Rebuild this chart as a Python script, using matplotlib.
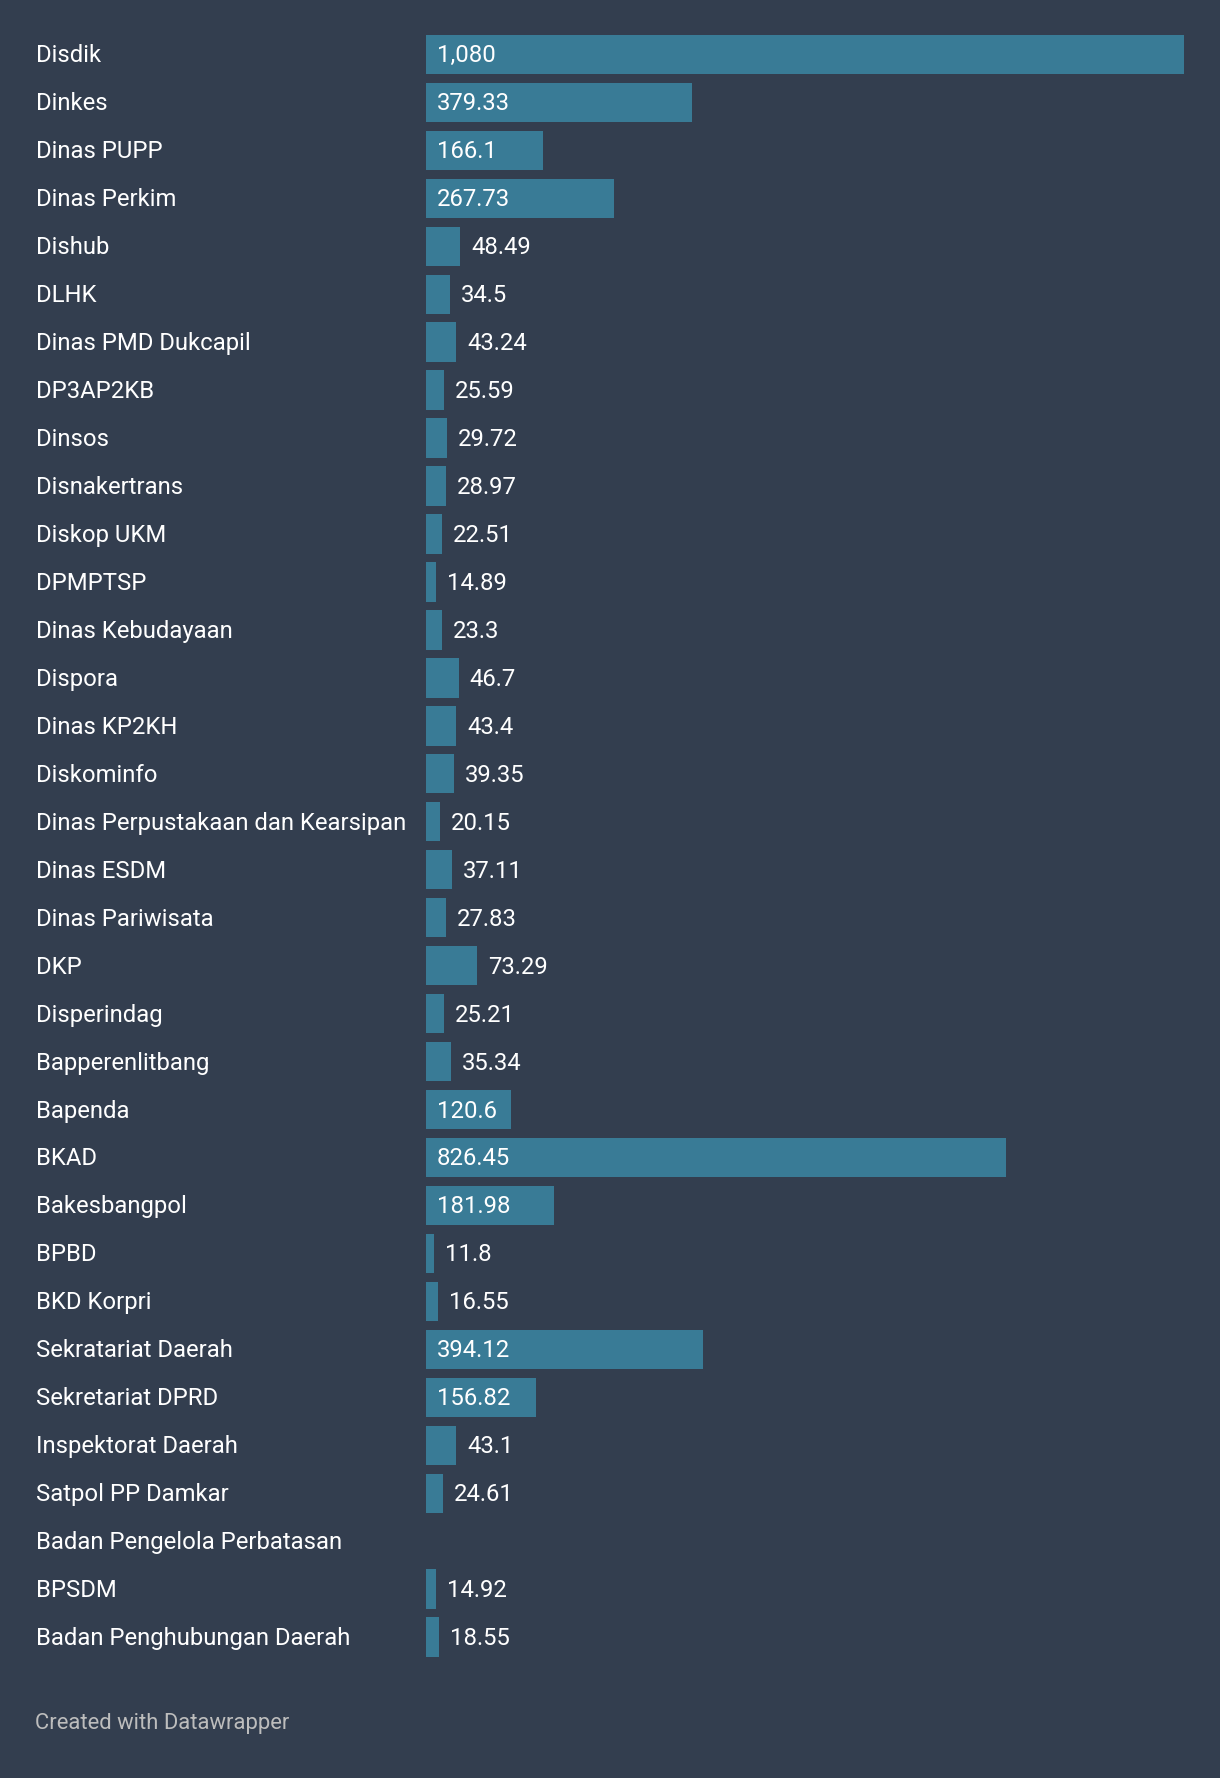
import numpy as np
import matplotlib
matplotlib.use("Agg")
import matplotlib.pyplot as plt
import matplotlib.transforms as mtransforms

plt.rcParams['font.family'] = ['Roboto', 'DejaVu Sans']

categories = ["Disdik", "Dinkes", "Dinas PUPP", "Dinas Perkim", "Dishub", "DLHK",
              "Dinas PMD Dukcapil", "DP3AP2KB", "Dinsos", "Disnakertrans", "Diskop UKM",
              "DPMPTSP", "Dinas Kebudayaan", "Dispora", "Dinas KP2KH", "Diskominfo",
              "Dinas Perpustakaan dan Kearsipan", "Dinas ESDM", "Dinas Pariwisata", "DKP",
              "Disperindag", "Bapperenlitbang", "Bapenda", "BKAD", "Bakesbangpol", "BPBD",
              "BKD Korpri", "Sekratariat Daerah", "Sekretariat DPRD", "Inspektorat Daerah",
              "Satpol PP Damkar", "Badan Pengelola Perbatasan", "BPSDM",
              "Badan Penghubungan Daerah"]
values = [1080, 379.33, 166.1, 267.73, 48.49, 34.5, 43.24, 25.59, 29.72, 28.97, 22.51,
          14.89, 23.3, 46.7, 43.4, 39.35, 20.15, 37.11, 27.83, 73.29, 25.21, 35.34,
          120.6, 826.45, 181.98, 11.8, 16.55, 394.12, 156.82, 43.1, 24.61, np.nan,
          14.92, 18.55]
value_labels = ["1,080", "379.33", "166.1", "267.73", "48.49", "34.5", "43.24", "25.59",
                "29.72", "28.97", "22.51", "14.89", "23.3", "46.7", "43.4", "39.35",
                "20.15", "37.11", "27.83", "73.29", "25.21", "35.34", "120.6", "826.45",
                "181.98", "11.8", "16.55", "394.12", "156.82", "43.1", "24.61", "",
                "14.92", "18.55"]

bg = "#333e4f"
bar_color = "#397b96"

W, H = 1220, 1778
fig = plt.figure(figsize=(W / 100, H / 100), dpi=100, facecolor=bg)

pitch = 47.96
top = 54.4 - pitch / 2
n = len(categories)
ax_h = n * pitch
ax = fig.add_axes([426 / W, 1 - (top + ax_h) / H, 758 / W, ax_h / H])
ax.set_facecolor(bg)

y = np.arange(n)
vals = np.nan_to_num(np.array(values, dtype=float))
ax.barh(y, vals, height=0.82, color=bar_color, linewidth=0)
ax.set_xlim(0, 1080)
ax.set_ylim(n - 0.5, -0.5)
ax.axis("off")

fs = 17.2
lab_tr = mtransforms.blended_transform_factory(fig.transFigure, ax.transData)
up = mtransforms.ScaledTranslation(0, 1 / 100, fig.dpi_scale_trans)
pad = mtransforms.ScaledTranslation(11 / 100, 1 / 100, fig.dpi_scale_trans)
for i, (cat, v, lab) in enumerate(zip(categories, values, value_labels)):
    ax.text(36 / W, i, cat, transform=lab_tr + up, color="white", fontsize=fs,
            va="center_baseline", ha="left")
    if lab == "":
        continue
    x0 = 0 if v > 100 else v
    ax.text(x0, i, lab, transform=ax.transData + pad, color="white", fontsize=fs,
            va="center_baseline", ha="left")

fig.text(35 / W, 1 - 1721 / H, "Created with Datawrapper", color="#bdbdbd",
         fontsize=15.8, va="center_baseline", ha="left")

fig.savefig("out.png", dpi=100, facecolor=bg)
